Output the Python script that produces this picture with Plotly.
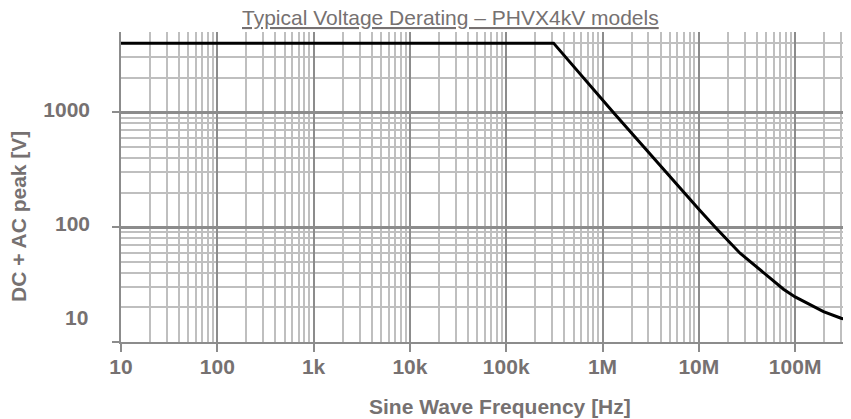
import numpy as np
import plotly.graph_objects as go

# ---- data ----
freq_hz = [10, 3.1e5, 1.29e6, 8.1e6, 1.0e7, 1.48e7, 2.0e7, 2.68e7, 5.08e7,
           7.57e7, 1.0e8, 1.5e8, 1.97e8, 3.0e8, 3.8e8]
voltage_v = [4000, 4000, 1000, 173, 143, 100, 76, 59.3, 38.0,
             28.8, 24.7, 20.6, 18.4, 16.1, 15.2]

x_tick_vals = [10, 100, 1e3, 1e4, 1e5, 1e6, 1e7, 1e8]
x_tick_text = ["10", "100", "1k", "10k", "100k", "1M", "10M", "100M"]
y_tick_vals = [10, 100, 1000]
y_tick_text = ["", "100", "1000"]   # "10" label is drawn as a raised annotation
y_low_label = "10"

title_text = "Typical Voltage Derating – PHVX4kV models"
x_title = "Sine Wave Frequency [Hz]"
y_title = "DC + AC peak [V]"

# ---- style ----
OFF = 8                      # default page body margin
W, H = 851 - OFF, 419 - OFF
ML, MR, MT, MB = 121 - OFF, 0, 32 - OFF, 419 - 342
TXT = "#767171"
MAJ = "#8c8c8c"
MIN = "#bfbfbf"
FONT = "Liberation Sans, Arial, sans-serif"

fig = go.Figure()
fig.add_trace(go.Scatter(
    x=freq_hz, y=voltage_v, mode="lines",
    line=dict(color="black", width=3),
    hoverinfo="skip", showlegend=False,
))

fig.update_layout(
    width=W, height=H,
    margin=dict(l=ML, r=MR, t=MT, b=MB, pad=0),
    paper_bgcolor="white", plot_bgcolor="white",
    font=dict(family=FONT, color=TXT),
    showlegend=False,
)

fig.update_xaxes(
    type="log", range=[1, 8.58],
    tickmode="array", tickvals=x_tick_vals, ticktext=x_tick_text,
    tickfont=dict(size=21, weight="bold", color=TXT, family=FONT),
    ticks="outside", ticklen=8, tickwidth=1.5, tickcolor=MAJ,
    showgrid=True, gridcolor=MAJ, gridwidth=1.5,
    minor=dict(dtick="D1", showgrid=True, gridcolor=MIN, gridwidth=1.5, ticks=""),
    showline=True, linecolor=MAJ, linewidth=2,
    zeroline=False, ticklabelstandoff=-3,
)

fig.update_yaxes(
    type="log", range=[1, np.log10(5000)],
    tickmode="array", tickvals=y_tick_vals, ticktext=y_tick_text,
    tickfont=dict(size=21, weight="bold", color=TXT, family=FONT),
    ticks="outside", ticklen=7, tickwidth=1.5, tickcolor=MAJ,
    showgrid=True, gridcolor=MAJ, gridwidth=3,
    minor=dict(dtick="D1", showgrid=True, gridcolor=MIN, gridwidth=1.5, ticks=""),
    showline=True, linecolor=MAJ, linewidth=1.5,
    zeroline=False, ticklabelstandoff=18, ticklabelshift=-3,
)

# page-pixel -> paper coordinates
def px_to_paper_x(px):
    return (px - OFF - ML) / (W - ML - MR)

def px_to_paper_y(py):
    return (H - MB - (py - OFF)) / (H - MT - MB)

annotations = [
    dict(text="<u>" + title_text + "</u>", x=px_to_paper_x(450), y=px_to_paper_y(17),
         xref="paper", yref="paper", xanchor="center", yanchor="middle",
         showarrow=False, font=dict(size=21, color=TXT, family=FONT)),
    dict(text=x_title, x=px_to_paper_x(500), y=px_to_paper_y(406),
         xref="paper", yref="paper", xanchor="center", yanchor="middle",
         showarrow=False, font=dict(size=21, weight="bold", color=TXT, family=FONT)),
    dict(text=y_title, x=px_to_paper_x(18), y=px_to_paper_y(217), textangle=-90,
         xref="paper", yref="paper", xanchor="center", yanchor="middle",
         showarrow=False, font=dict(size=21, weight="bold", color=TXT, family=FONT)),
    dict(text=y_low_label, x=px_to_paper_x(90), y=np.log10(y_tick_vals[0]),
         xref="paper", yref="y", xanchor="right", yanchor="middle", yshift=25,
         showarrow=False, font=dict(size=21, weight="bold", color=TXT, family=FONT)),
]
fig.update_layout(annotations=annotations)

fig.write_html("out.html")
